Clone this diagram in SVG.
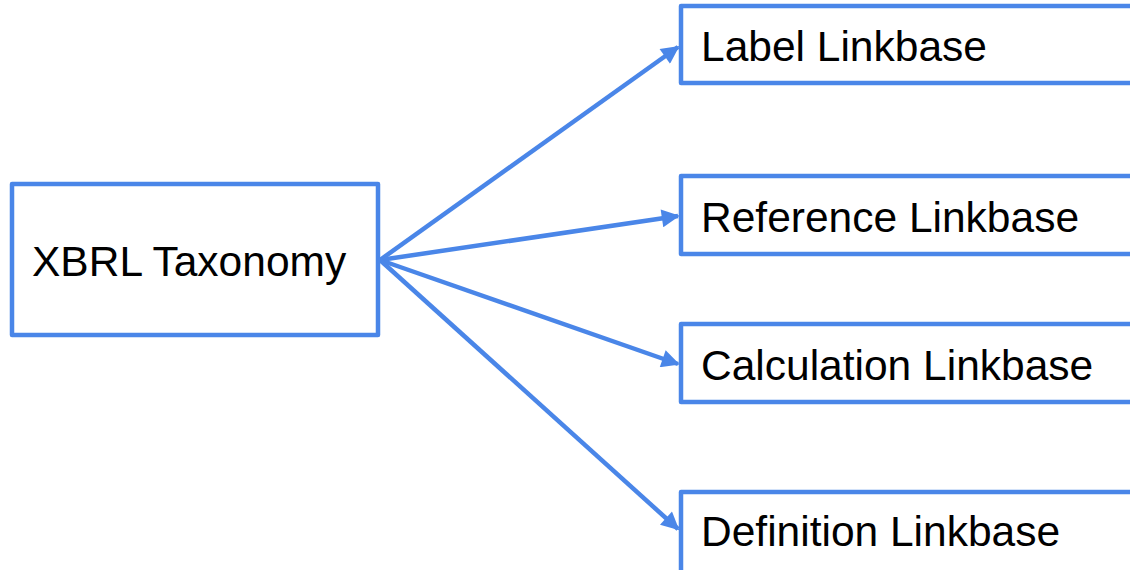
<svg xmlns="http://www.w3.org/2000/svg" width="1130" height="570" viewBox="0 0 1130 570">
  <defs>
    <marker id="arrow" viewBox="0 0 10 10" refX="9" refY="5" markerWidth="4.5" markerHeight="4" markerUnits="strokeWidth" orient="auto">
      <path d="M0,0 L10,5 L0,10 Z" fill="#4a86e8"/>
    </marker>
  </defs>
  <style>
    .box { fill: #ffffff; stroke: #4a86e8; stroke-width: 4.5; stroke-linejoin: round; }
    .lbl { font-family: "Liberation Sans", Arial, sans-serif; font-size: 42.5px; fill: #000000; }
    .conn { stroke: #4a86e8; stroke-width: 4.5; fill: none; marker-end: url(#arrow); }
  </style>
  <rect width="1130" height="570" fill="#ffffff"/>
  <g id="connectors">
    <line class="conn" x1="380" y1="260" x2="678" y2="47"/>
    <line class="conn" x1="380" y1="260" x2="678" y2="216"/>
    <line class="conn" x1="380" y1="260" x2="678" y2="364"/>
    <line class="conn" x1="380" y1="260" x2="678" y2="529"/>
  </g>
  <g id="node-xbrl">
    <rect class="box" x="12" y="184" width="366" height="151"/>
    <text class="lbl" x="32" y="276">XBRL Taxonomy</text>
  </g>
  <g id="node-label">
    <rect class="box" x="681" y="6" width="470" height="77"/>
    <text class="lbl" x="701" y="61">Label Linkbase</text>
  </g>
  <g id="node-reference">
    <rect class="box" x="681" y="176" width="470" height="78"/>
    <text class="lbl" x="701" y="232">Reference Linkbase</text>
  </g>
  <g id="node-calculation">
    <rect class="box" x="681" y="324" width="470" height="78"/>
    <text class="lbl" x="701" y="380">Calculation Linkbase</text>
  </g>
  <g id="node-definition">
    <rect class="box" x="681" y="492" width="470" height="90"/>
    <text class="lbl" x="701" y="546">Definition Linkbase</text>
  </g>
</svg>
